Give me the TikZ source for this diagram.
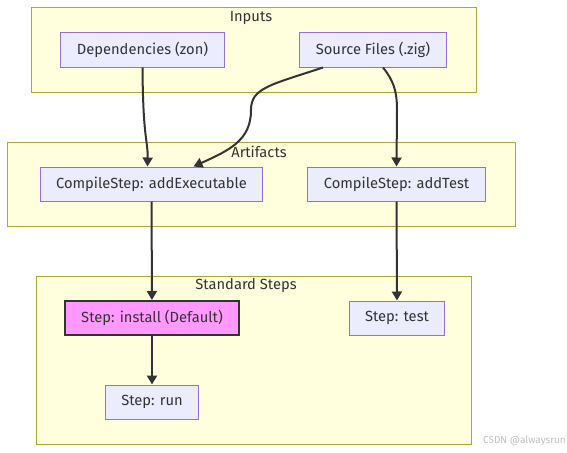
\documentclass[tikz,border=0pt]{standalone}
\usepackage{fontspec}
\setmainfont{Fira Sans}
\usetikzlibrary{arrows.meta}
\definecolor{clusterfill}{HTML}{FFFFDE}
\definecolor{clusterline}{HTML}{AAAA33}
\definecolor{boxfill}{HTML}{ECECFF}
\definecolor{boxline}{HTML}{9370DB}
\definecolor{ink}{HTML}{333333}
\definecolor{defaultfill}{HTML}{FF99FF}
\begin{document}
\begin{tikzpicture}[
  x = 1pt,
  y = -1pt,
  cluster/.style = {
    draw = clusterline,
    fill = clusterfill,
    line width = 1pt
  },
  title/.style = {
    text = ink,
    inner sep = 0pt,
    font = \fontsize{14.7}{16}\selectfont
  },
  box/.style = {
    shape = rectangle,
    draw = boxline,
    fill = boxfill,
    line width = 1pt,
    text = ink,
    minimum height = 34pt,
    inner xsep = 16pt,
    font = \fontsize{14.7}{16}\selectfont
  },
  defaultbox/.style = {
    box,
    draw = ink,
    fill = defaultfill,
    line width = 2pt
  },
  flow/.style = {
    draw = ink,
    line width = 2pt,
    -{Triangle[length = 9pt, width = 10pt]}
  }
]
  \useasboundingbox (0, 0) rectangle (567, 452);

  % clusters
  \draw[cluster] (31, 8) rectangle (476, 92);
  \node[title] (inputs) at (251, 18) {Inputs};
  \draw[cluster] (7, 142) rectangle (515, 226);
  \node[title] (artifacts) at (259, 152) {Artifacts};
  \draw[cluster] (36, 276) rectangle (471, 444);
  \node[title] (standard) at (246, 286) {Standard Steps};

  \node[box] (deps) at (142.5, 50) {Dependencies (zon)};
  \node[box] (src) at (373, 50) {Source Files (.zig)};

  \node[box] (addexe) at (151.5, 184) {CompileStep: addExecutable};
  \node[box] (addtest) at (396.5, 184) {CompileStep: addTest};

  \node[defaultbox] (install) at (152, 318) {Step: install (Default)};
  \node[box] (test) at (397, 318) {Step: test};
  \node[box] (run) at (152, 402) {Step: run};

  \draw[flow] (deps.south) .. controls (143, 140) and (148, 140) .. ([xshift = -4pt]addexe.north);
  \draw[flow] ([xshift = -50pt]src.south) .. controls (270, 85) and (251, 88) .. (251, 110)
    .. controls (251, 140) and (230, 150) .. ([xshift = 42pt]addexe.north);
  \draw[flow] ([xshift = 10pt]src.south) .. controls (393, 80) and (397, 90) .. (397, 110) -- (addtest.north);
  \draw[flow] (addexe) -- (install);
  \draw[flow] (addtest) -- (test);
  \draw[flow] (install) -- (run);

  \node[anchor = east, text = black!25, inner sep = 0pt, font = \fontsize{10}{12}\selectfont] (mark) at (566, 441) {CSDN @alwaysrun};
\end{tikzpicture}
\end{document}
